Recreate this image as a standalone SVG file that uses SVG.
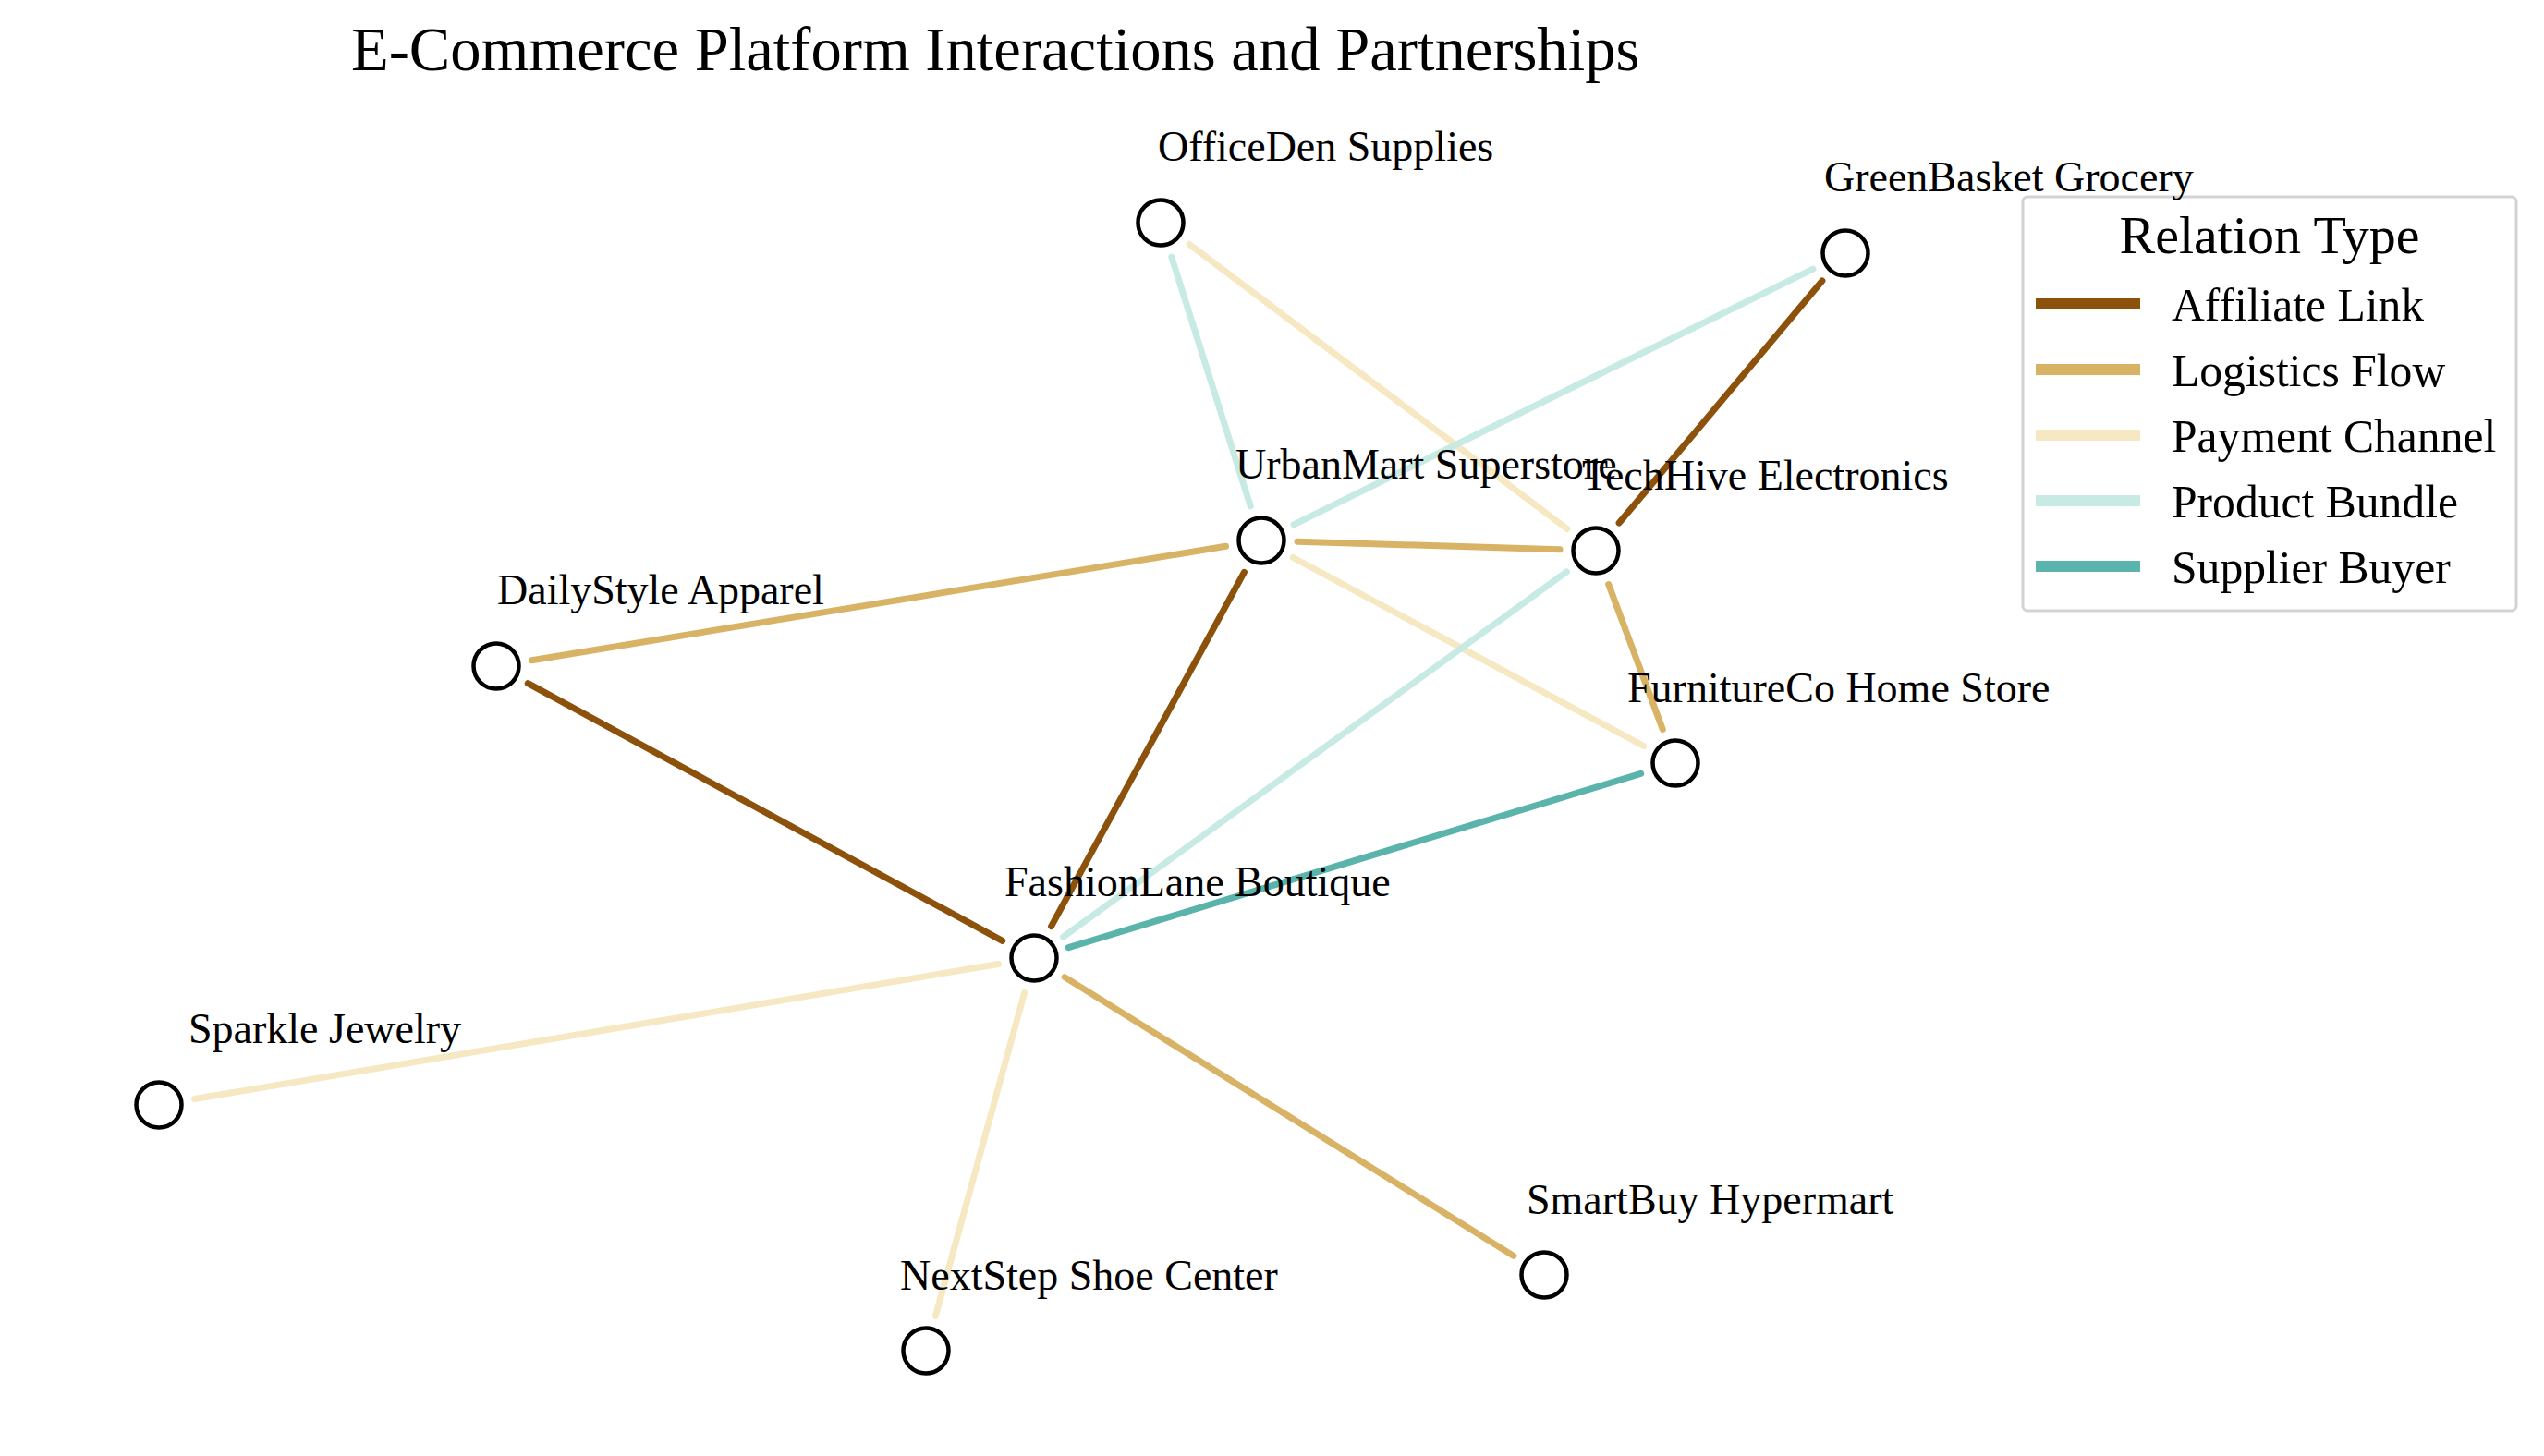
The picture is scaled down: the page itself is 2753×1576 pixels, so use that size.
<svg xmlns="http://www.w3.org/2000/svg" width="2753" height="1576" viewBox="0 0 2753 1576">
<style>
text{font-family:"Liberation Serif","Times New Roman",serif;fill:#000}
.lbl{font-size:46px}
.leg{font-size:49.6px}
.e{stroke-width:7;stroke-linecap:round;fill:none}
.aff{stroke:#8c510a}.log{stroke:#d8b365}.pay{stroke:#f6e8c3}.bun{stroke:#c7eae5}.sup{stroke:#5ab4ac}
.n{fill:#fff;stroke:#000;stroke-width:4.5}
.ll{stroke-width:12}
</style>
<rect width="2753" height="1576" fill="#fff"/>
<text x="380" y="76" font-size="66.6">E-Commerce Platform Interactions and Partnerships</text>
<g id="connectors">
<line class="e bun" x1="1267.8" y1="278.2" x2="1353.2" y2="547.8"/>
<line class="e pay" x1="1287.1" y1="264.5" x2="1695.9" y2="572.5"/>
<line class="e bun" x1="1962" y1="291.2" x2="1400" y2="567.8"/>
<line class="e aff" x1="1971.9" y1="303.9" x2="1752.1" y2="566.1"/>
<line class="e log" x1="1404" y1="586.2" x2="1688" y2="594.8"/>
<line class="e log" x1="575.5" y1="714.7" x2="1326.5" y2="591.3"/>
<line class="e aff" x1="571.3" y1="739.6" x2="1084.7" y2="1018.4"/>
<line class="e aff" x1="1346.4" y1="619.3" x2="1137.6" y2="1002.7"/>
<line class="e pay" x1="1399.3" y1="603.5" x2="1778.7" y2="807.5"/>
<line class="e bun" x1="1695.4" y1="618.9" x2="1150.6" y2="1014.1"/>
<line class="e log" x1="1740.7" y1="632.5" x2="1799.3" y2="789.5"/>
<line class="e sup" x1="1775.7" y1="837.3" x2="1156.3" y2="1025.7"/>
<line class="e pay" x1="1080.5" y1="1043.5" x2="210.5" y2="1189.5"/>
<line class="e pay" x1="1108.6" y1="1074.6" x2="1012.4" y2="1424.4"/>
<line class="e log" x1="1152.1" y1="1057.6" x2="1637.9" y2="1359.4"/>
</g>
<g id="legend">
<rect x="2189" y="213" width="534" height="448" rx="5" fill="#fff" stroke="#d3d3d3" stroke-width="3"/>
<text x="2456" y="274" font-size="58" text-anchor="middle">Relation Type</text>
<line class="ll aff" x1="2203" y1="329" x2="2316" y2="329"/><text class="leg" x="2350" y="347">Affiliate Link</text>
<line class="ll log" x1="2203" y1="400" x2="2316" y2="400"/><text class="leg" x="2350" y="418">Logistics Flow</text>
<line class="ll pay" x1="2203" y1="471" x2="2316" y2="471"/><text class="leg" x="2350" y="489">Payment Channel</text>
<line class="ll bun" x1="2203" y1="542" x2="2316" y2="542"/><text class="leg" x="2350" y="560">Product Bundle</text>
<line class="ll sup" x1="2203" y1="613" x2="2316" y2="613"/><text class="leg" x="2350" y="631">Supplier Buyer</text>
</g>
<g id="node-officeden"><circle class="n" cx="1256" cy="241" r="24.5"/><text class="lbl" x="1253" y="174">OfficeDen Supplies</text></g>
<g id="node-greenbasket"><circle class="n" cx="1997" cy="274" r="24.5"/><text class="lbl" x="1974" y="207">GreenBasket Grocery</text></g>
<g id="node-urbanmart"><circle class="n" cx="1365" cy="585" r="24.5"/><text class="lbl" x="1337" y="518">UrbanMart Superstore</text></g>
<g id="node-techhive"><circle class="n" cx="1727" cy="596" r="24.5"/><text class="lbl" x="1712" y="530">TechHive Electronics</text></g>
<g id="node-dailystyle"><circle class="n" cx="537" cy="721" r="24.5"/><text class="lbl" x="538" y="654">DailyStyle Apparel</text></g>
<g id="node-furnitureco"><circle class="n" cx="1813" cy="826" r="24.5"/><text class="lbl" x="1761" y="760">FurnitureCo Home Store</text></g>
<g id="node-fashionlane"><circle class="n" cx="1119" cy="1037" r="24.5"/><text class="lbl" x="1087" y="970">FashionLane Boutique</text></g>
<g id="node-sparkle"><circle class="n" cx="172" cy="1196" r="24.5"/><text class="lbl" x="204" y="1129">Sparkle Jewelry</text></g>
<g id="node-smartbuy"><circle class="n" cx="1671" cy="1380" r="24.5"/><text class="lbl" x="1652" y="1314">SmartBuy Hypermart</text></g>
<g id="node-nextstep"><circle class="n" cx="1002" cy="1462" r="24.5"/><text class="lbl" x="974" y="1396">NextStep Shoe Center</text></g>
</svg>
